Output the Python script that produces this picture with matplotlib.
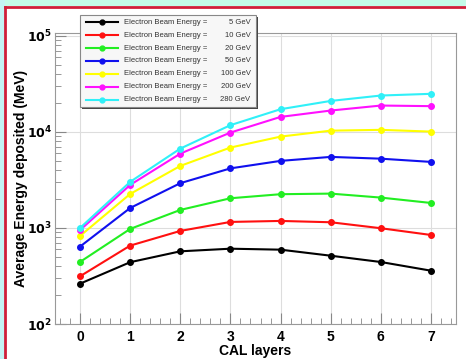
import math
import matplotlib
matplotlib.use("Agg")
import matplotlib.pyplot as plt
from matplotlib.patches import Rectangle
from matplotlib.lines import Line2D
from matplotlib.ticker import MultipleLocator, LogLocator, NullFormatter, FuncFormatter

plt.rcParams['font.family'] = ['Liberation Sans', 'DejaVu Sans']

# data
layers = [0, 1, 2, 3, 4, 5, 6, 7]
energies = [5, 10, 20, 50, 100, 200, 280]
colors = ['black', '#ff1010', '#22ee22', '#1010ee', '#ffff00', '#ff10ff', '#30f0f8']
e_5 = [263, 440, 571, 608, 594, 514, 442, 359]
e_10 = [314, 655, 931, 1155, 1183, 1146, 993, 845]
e_20 = [443, 977, 1540, 2037, 2245, 2277, 2070, 1820]
e_50 = [640, 1614, 2925, 4170, 4990, 5490, 5260, 4870]
e_100 = [826, 2259, 4424, 6870, 8930, 10300, 10500, 10070]
e_200 = [950, 2806, 5940, 9840, 14320, 16680, 18800, 18530]
e_280 = [1000, 3020, 6700, 11750, 17220, 21000, 23900, 24900]
series = [e_5, e_10, e_20, e_50, e_100, e_200, e_280]

W, H = 466, 359
fig = plt.figure(figsize=(W / 100, H / 100), dpi=100)


def px(x, y):
    # pixel (from top-left) -> figure fraction
    return x / W, 1 - y / H


# frame decoration: light strip on top/left with red border line
fig.patches.append(Rectangle(px(0, 6), 1, 6 / H, transform=fig.transFigure,
                             facecolor='#c4fbe8', edgecolor='none', zorder=0))
fig.patches.append(Rectangle((0, 0), 5 / W, 1, transform=fig.transFigure,
                             facecolor='#c4f4f4', edgecolor='none', zorder=0))
fig.lines.append(Line2D([5 / W, 1], [1 - 6.5 / H, 1 - 6.5 / H], transform=fig.transFigure,
                        color='#d0203a', lw=2))
fig.lines.append(Line2D([5 / W, 5 / W], [0, 1 - 6.5 / H], transform=fig.transFigure,
                        color='#d0203a', lw=2))

ax = fig.add_axes([55 / W, (H - 324) / H, (456 - 55) / W, (324 - 33) / H])
for vals, c in zip(series, colors):
    ax.plot(layers, vals, color=c, lw=1.5, marker='o', ms=4, zorder=3)

ax.set_yscale('log')
ax.set_ylim(100, 1.07e5)
ax.set_xlim(-0.5, 7.5)
ax.set_xticks(layers)
ax.xaxis.set_minor_locator(MultipleLocator(0.2))
ax.yaxis.set_minor_locator(LogLocator(base=10, subs=range(2, 10)))
ax.yaxis.set_minor_formatter(NullFormatter())
ax.yaxis.set_major_formatter(FuncFormatter(lambda v, p: r'$\mathbf{10^{%d}}$' % round(math.log10(v))))
ax.xaxis.set_major_formatter(FuncFormatter(lambda v, p: '%d' % v))
ax.tick_params(which='both', direction='in', color='#888888', top=False, right=False)
ax.tick_params(which='major', length=8)
ax.tick_params(which='minor', length=4)
ax.tick_params(axis='y', which='major', pad=2, labelsize=9)
ax.tick_params(axis='x', which='major', pad=4, labelsize=10)
for lab in ax.get_xticklabels():
    lab.set_fontweight('bold')
ax.grid(True, which='major', color='#dddddd', lw=0.8)
for sp in ax.spines.values():
    sp.set_color('#999999')

ax.set_xlabel('CAL layers', fontsize=10, fontweight='bold', labelpad=0)
ax.set_ylabel('Average Energy deposited (MeV)', fontsize=10, fontweight='bold')
ax.yaxis.set_label_coords(-(55 - 28) / (456 - 55), 0.5)

# legend box drawn by hand (shadow + frame + rows)
lx0, ly0, lx1, ly1 = 80, 15, 256, 107
fig.patches.append(Rectangle(px(lx0 + 2, ly1 + 2), (lx1 - lx0) / W, (ly1 - ly0) / H,
                             transform=fig.transFigure, facecolor='#444444',
                             edgecolor='none', zorder=5))
fig.patches.append(Rectangle(px(lx0, ly1), (lx1 - lx0) / W, (ly1 - ly0) / H,
                             transform=fig.transFigure, facecolor='#f7f7f7',
                             edgecolor='#888888', lw=0.8, zorder=6))
for i, (e, c) in enumerate(zip(energies, colors)):
    y = 22.3 + i * 12.9
    fig.lines.append(Line2D([86 / W, 118 / W], [1 - y / H] * 2, transform=fig.transFigure,
                            color=c, lw=1.5, zorder=7))
    fig.lines.append(Line2D([102 / W], [1 - y / H], transform=fig.transFigure,
                            color=c, marker='o', ms=3.5, zorder=7))
    fig.text(*px(124.5, y), 'Electron Beam Energy =', fontsize=5.5, ha='left',
             va='center', color='#333333', zorder=8)
    fig.text(*px(250.5, y), '%d GeV' % e, fontsize=5.5, ha='right', va='center',
             color='#333333', zorder=8)

fig.savefig('out.png', dpi=100)
